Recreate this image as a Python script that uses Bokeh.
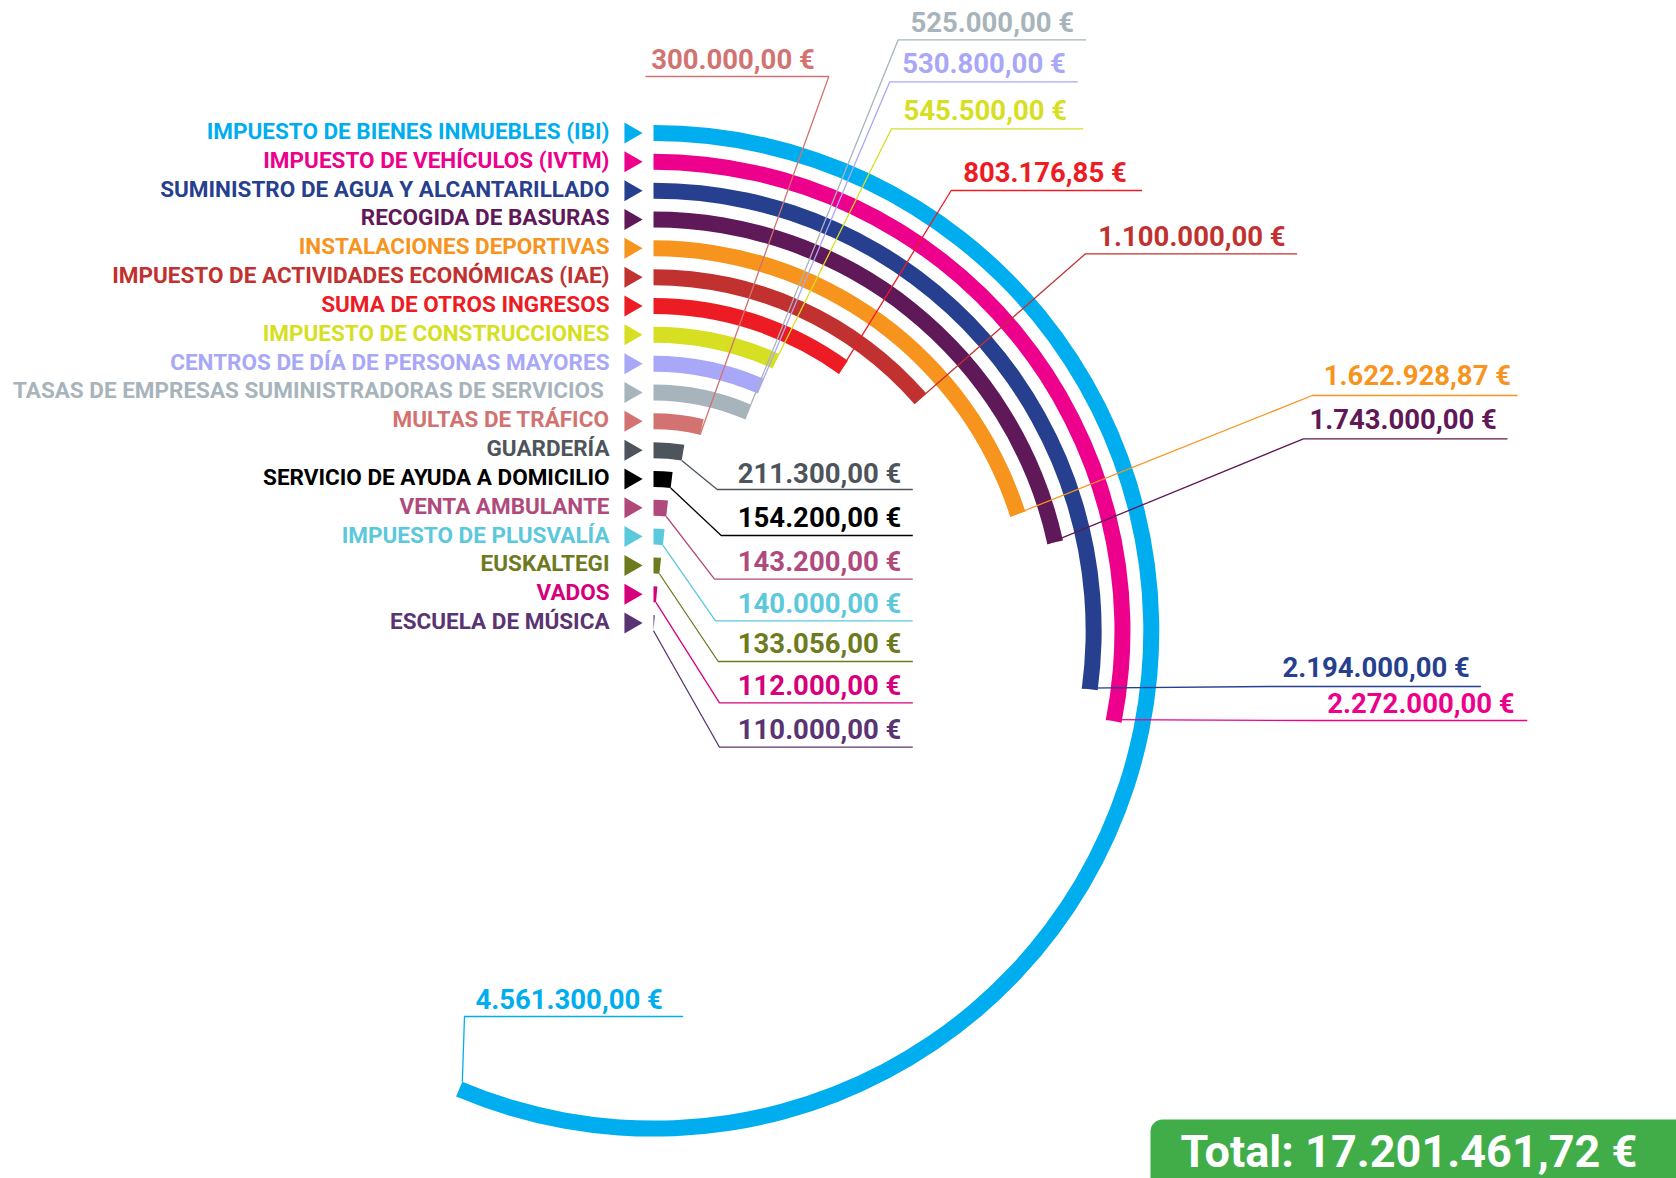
import math
from bokeh.plotting import figure
from bokeh.models import ColumnDataSource, BoxAnnotation, Range1d
from bokeh.core.properties import value
from bokeh.embed import file_html
from bokeh.resources import INLINE

# ---------------- data ----------------
categories = [
    "IMPUESTO DE BIENES INMUEBLES (IBI)",
    "IMPUESTO DE VEHÍCULOS (IVTM)",
    "SUMINISTRO DE AGUA Y ALCANTARILLADO",
    "RECOGIDA DE BASURAS",
    "INSTALACIONES DEPORTIVAS",
    "IMPUESTO DE ACTIVIDADES ECONÓMICAS (IAE)",
    "SUMA DE OTROS INGRESOS",
    "IMPUESTO DE CONSTRUCCIONES",
    "CENTROS DE DÍA DE PERSONAS MAYORES",
    "TASAS DE  EMPRESAS SUMINISTRADORAS DE SERVICIOS",
    "MULTAS DE TRÁFICO",
    "GUARDERÍA",
    "SERVICIO DE AYUDA A DOMICILIO",
    "VENTA AMBULANTE",
    "IMPUESTO DE PLUSVALÍA",
    "EUSKALTEGI",
    "VADOS",
    "ESCUELA DE MÚSICA",
]
values = [4561300.00, 2272000.00, 2194000.00, 1743000.00, 1622928.87,
          1100000.00, 803176.85, 545500.00, 530800.00, 525000.00,
          300000.00, 211300.00, 154200.00, 143200.00, 140000.00,
          133056.00, 112000.00, 110000.00]
colors = ["#00AEEF", "#EC008C", "#263F8E", "#5F1858", "#F7941D",
          "#C1312F", "#ED1C24", "#D7DF23", "#A9A7F7", "#A7B4BB",
          "#D27371", "#4D545B", "#000000", "#B04A7C", "#5BC8DC",
          "#6E7A20", "#D6007D", "#5A3472"]
total_label = "Total: 17.201.461,72 €"

# ---------------- layout (screen pixels, y downward) ----------------
W, H = 1676, 1178
CX, CY = 653.0, 630.3          # centre of the rings
R0, STEP, BAND = 497.8, 28.83, 16.0
EUROS_PER_TURN = 8090000.0      # angular scale: one full turn
TEXT_DY = -10.0                 # svg text baseline correction

# value label layout: text left x, baseline y, underline x0, x1, y, leader side
lab_tx = [475, 1326.8, 1282, 1309, 1323.2, 1097.8, 962.7, 903, 901.7, 910,
          650.7, 737.3, 737.3, 737.3, 737.3, 737.3, 737.3, 737.3]
lab_ty = [1009.3, 712.7, 676.7, 429.3, 385, 246, 181.7, 120, 72.7, 31.7,
          69, 482.7, 527.3, 571, 613.3, 653.3, 695, 739.3]
ul_x0 = [464, 1312.5, 1267.9, 1302.9, 1311.8, 1085, 950.7, 891, 889.3, 897.7,
         645, 716.7, 720.7, 714, 715, 717.7, 719, 719]
ul_x1 = [682.7, 1526.8, 1480.4, 1507, 1517, 1296.6, 1141.6, 1082.7, 1077.3, 1085.7,
         828.3, 912.3, 912.3, 912.3, 912.3, 912.3, 912.3, 912.3]
ul_y = [1016, 720, 686, 438.3, 395, 253.3, 190, 128.3, 81.3, 39.3,
        76, 489, 535, 578.7, 620.3, 661, 702.3, 746.7]
ul_side = ["L"] * 10 + ["R"] + ["L"] * 7


def fmt_eur(v):
    s = f"{v:,.2f}".replace(",", "X").replace(".", ",").replace("X", ".")
    return s + " €"


def yd(ys):
    return H - ys


n = len(values)
radii = [R0 - i * STEP for i in range(n)]
angles = [2 * math.pi * v / EUROS_PER_TURN for v in values]
row_y = [CY - r for r in radii]

p = figure(width=W, height=H, x_range=Range1d(0, W), y_range=Range1d(0, H),
           output_backend="svg", toolbar_location=None, min_border=0)
p.xaxis.visible = False
p.yaxis.visible = False
p.grid.visible = False
p.outline_line_color = None
p.background_fill_color = "white"

# rings
ring_src = ColumnDataSource(dict(
    x=[CX] * n, y=[yd(CY)] * n,
    inner=[max(r - BAND / 2, 0) for r in radii],
    outer=[r + BAND / 2 for r in radii],
    start=[math.pi / 2] * n,
    end=[math.pi / 2 - a for a in angles],
    color=colors,
))
p.annular_wedge(x="x", y="y", inner_radius="inner", outer_radius="outer",
                start_angle="start", end_angle="end", direction="clock",
                fill_color="color", line_color=None, source=ring_src)

# leaders + underlines
xs, ys = [], []
for i in range(n):
    rr = max(radii[i] - BAND / 2, 0)
    px = CX + rr * math.sin(angles[i])
    py = CY - rr * math.cos(angles[i])
    if ul_side[i] == "L":
        xs.append([px, ul_x0[i], ul_x1[i]])
    else:
        xs.append([px, ul_x1[i], ul_x0[i]])
    ys.append([yd(py), yd(ul_y[i]), yd(ul_y[i])])
p.multi_line(xs=xs, ys=ys, line_color=colors, line_width=1.3)

# category labels
cat_src = ColumnDataSource(dict(
    x=[609] * n, y=[yd(y + 8 + TEXT_DY) for y in row_y], text=categories, color=colors))
p.text(x="x", y="y", text="text", text_color="color", source=cat_src,
       text_align="right", text_baseline="alphabetic",
       text_font=value("Roboto"), text_font_style="bold", text_font_size="22.5px")

# triangles
p.scatter(x=[630] * n, y=[yd(y) for y in row_y], marker="triangle",
          size=21, angle=-math.pi / 2, fill_color=colors, line_color=None)

# value labels
val_src = ColumnDataSource(dict(
    x=lab_tx, y=[yd(v + TEXT_DY) for v in lab_ty], text=[fmt_eur(v) for v in values],
    color=colors))
p.text(x="x", y="y", text="text", text_color="color", source=val_src,
       text_align="left", text_baseline="alphabetic",
       text_font=value("Roboto"), text_font_style="bold", text_font_size="27.5px")

# total box
box = BoxAnnotation(left=1150, right=W + 30, bottom=-30, top=yd(1119),
                    fill_color="#40AD49", fill_alpha=1.0, line_color=None,
                    border_radius=12, level="underlay")
p.add_layout(box)
p.text(x=[1180], y=[yd(1161 + TEXT_DY)], text=[total_label], text_color="white",
       text_align="left", text_baseline="alphabetic",
       text_font=value("Roboto"), text_font_style="bold", text_font_size="45px")

open("out.html", "w").write(file_html(p, INLINE))
